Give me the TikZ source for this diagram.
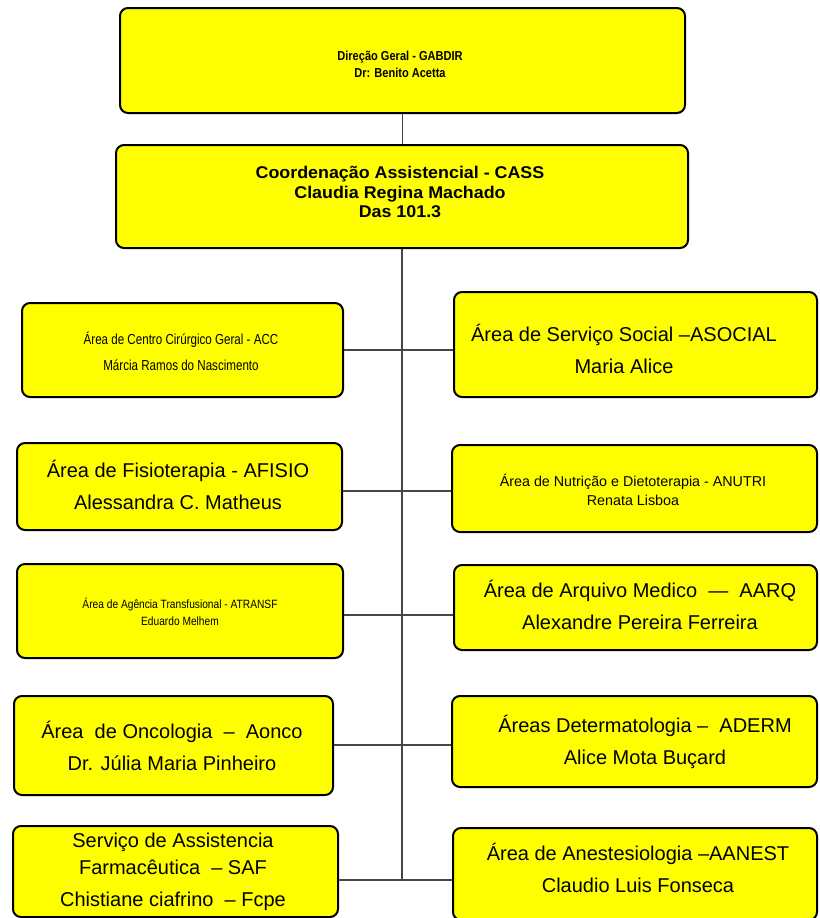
\documentclass[tikz,border=0pt]{standalone}
\usepackage{fontspec}
\setmainfont{Liberation Sans}
\newfontfamily\topfont[FakeStretch=0.85]{Liberation Sans}
\newfontfamily\cassfont[FakeStretch=1.05]{Liberation Sans}
\newfontfamily\narrowfont[FakeStretch=0.80]{Liberation Sans}
\newfontfamily\transffont[FakeStretch=0.85]{Liberation Sans}
\definecolor{yel}{RGB}{255,255,0}
\definecolor{linkgray}{RGB}{70,70,70}
\begin{document}
\begin{tikzpicture}[x=1pt,y=-1pt,
  box/.style={draw=black, line width=2pt, fill=yel, rounded corners=8pt, inner sep=0pt},
  txt/.style={align=center, inner sep=0pt, text=black},
  bigtxt/.style={txt, font=\fontsize{20}{32}\selectfont},
  link/.style={draw=linkgray, line width=1.2pt}]
\fill[white] (0,0) rectangle (819,918);
\useasboundingbox (0,0) rectangle (819,918);

% boxes
\node[box, minimum width=565pt, minimum height=105pt] (top) at (402.5,60.5) {};
\node[box, minimum width=572pt, minimum height=103pt] (cass) at (402,196.5) {};
\node[box, minimum width=321pt, minimum height=94pt] (acc) at (182.5,350) {};
\node[box, minimum width=363pt, minimum height=105pt] (asocial) at (635.5,344.5) {};
\node[box, minimum width=325pt, minimum height=87pt] (afisio) at (179.5,486.5) {};
\node[box, minimum width=365pt, minimum height=87pt] (anutri) at (634.5,488.5) {};
\node[box, minimum width=326pt, minimum height=94pt] (atransf) at (180,611) {};
\node[box, minimum width=363pt, minimum height=85pt] (aarq) at (635.5,607.5) {};
\node[box, minimum width=319pt, minimum height=99pt] (aonco) at (173.5,745.5) {};
\node[box, minimum width=365pt, minimum height=91pt] (aderm) at (634.5,741.5) {};
\node[box, minimum width=325pt, minimum height=91pt] (saf) at (175.5,871.5) {};
\node[box, minimum width=364pt, minimum height=92pt] (aanest) at (635,874) {};

% texts
\node[txt, font={\topfont\bfseries\fontsize{13}{17}\selectfont}] (topt) at (400,64)
  {Direção Geral - GABDIR\\Dr: Benito Acetta};
\node[txt, font={\cassfont\bfseries\fontsize{17}{19.5}\selectfont}] (casst) at (400,192)
  {Coordenação Assistencial - CASS\\Claudia Regina Machado\\Das 101.3};
\node[txt, font={\narrowfont\fontsize{14.5}{26}\selectfont}] (acct) at (181,351)
  {Área de Centro Cirúrgico Geral - ACC\\Márcia Ramos do Nascimento};
\node[bigtxt] (asocialt) at (624,349)
  {Área de Serviço Social –ASOCIAL\\Maria Alice};
\node[bigtxt] (afisiot) at (178,485)
  {Área de Fisioterapia - AFISIO\\Alessandra C. Matheus};
\node[txt, font={\fontsize{14.3}{19}\selectfont}] (anutrit) at (633,490)
  {Área de Nutrição e Dietoterapia - ANUTRI\\Renata Lisboa};
\node[txt, font={\transffont\fontsize{12}{17}\selectfont}] (atransft) at (180,612)
  {Área de Agência Transfusional - ATRANSF\\Eduardo Melhem};
\node[bigtxt] (aarqt) at (640,605)
  {Área de Arquivo Medico\ \ —\ \ AARQ\\Alexandre Pereira Ferreira};
\node[bigtxt] (aoncot) at (172,746)
  {Área\ \ de Oncologia\ \ –\ \ Aonco\\Dr. Júlia Maria Pinheiro};
\node[bigtxt] (adermt) at (645,742)
  {Áreas Determatologia –\ \ ADERM\\Alice Mota Buçard};
\node[txt, font={\fontsize{20}{27}\selectfont}] (saft) at (173,872)
  {Serviço de Assistencia\\Farmacêutica\ \ – SAF\\[5pt]Chistiane ciafrino\ \ – Fcpe};
\node[bigtxt] (aanestt) at (638,868)
  {Área de Anestesiologia –AANEST\\Claudio Luis Fonseca};

% trunk junctions
\coordinate (j1) at (402,350);
\coordinate (j2) at (402,491);
\coordinate (j3) at (402,615);
\coordinate (j4) at (402,745);
\coordinate (j5) at (402,880);

% connectors
\draw[link] (top.south) -- (top.south |- cass.north);
\draw[link] (cass.south) -- (cass.south |- j5);
\draw[link] (acc.east |- j1) -- (asocial.west |- j1);
\draw[link] (afisio.east |- j2) -- (anutri.west |- j2);
\draw[link] (atransf.east |- j3) -- (aarq.west |- j3);
\draw[link] (aonco.east |- j4) -- (aderm.west |- j4);
\draw[link] (saf.east |- j5) -- (aanest.west |- j5);
\end{tikzpicture}
\end{document}
